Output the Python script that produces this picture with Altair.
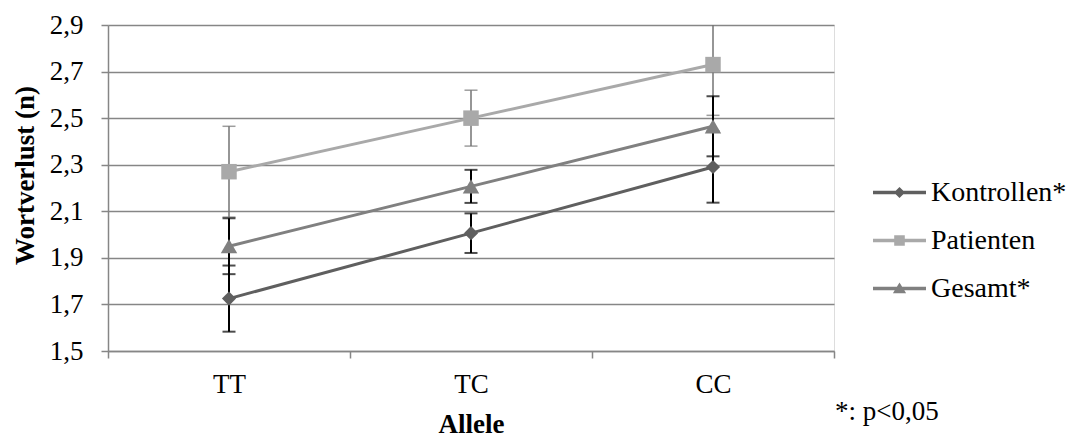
import altair as alt
import pandas as pd

# ---- data ----
alleles = ["TT", "TC", "CC"]
series = ["Kontrollen*", "Patienten", "Gesamt*"]
kontrollen = [1.725, 2.006, 2.29]
kontrollen_err = [0.142, 0.085, 0.153]
patienten = [2.27, 2.50, 2.73]
patienten_err = [0.195, 0.12, 0.218]
gesamt = [1.95, 2.207, 2.465]
gesamt_err = [0.12, 0.071, 0.129]
y_ticks = [1.5, 1.7, 1.9, 2.1, 2.3, 2.5, 2.7, 2.9]
footnote = ["*: p<0,05"]

rows = []
for s, vals, errs in zip(series, [kontrollen, patienten, gesamt],
                         [kontrollen_err, patienten_err, gesamt_err]):
    for a, v, e in zip(alleles, vals, errs):
        rows.append({"Allele": a, "Serie": s, "Wert": v, "lo": v - e, "hi": v + e})
df = pd.DataFrame(rows)

# ---- styles ----
FONT = "Liberation Serif"
GRID = "#868686"
line_colors = ["#5f5f5f", "#a9a9a9", "#808080"]
err_colors = ["#000000", "#737373", "#000000"]
err_widths = [2, 1.5, 2]
shapes = ["diamond", "square", "triangle-up"]
shape_sizes = [200, 240, 270]
legend_paths = [
    "M-1,-0.065L1,-0.065L1,0.065L-1,0.065Z M0,-0.21L0.21,0L0,0.21L-0.21,0Z",
    "M-1,-0.065L1,-0.065L1,0.065L-1,0.065Z M-0.2,-0.2L0.2,-0.2L0.2,0.2L-0.2,0.2Z",
    "M-1,-0.065L1,-0.065L1,0.065L-1,0.065Z M0,-0.23L0.25,0.18L-0.25,0.18Z",
]

x_enc = alt.X(
    "Allele:N",
    sort=alleles,
    scale=alt.Scale(type="band", domain=alleles, paddingInner=0, paddingOuter=0),
    axis=alt.Axis(
        title="Allele",
        titleFont=FONT, titleFontSize=27, titleFontWeight="bold", titleColor="black",
        titleBaseline="alphabetic", titleY=81,
        labelFont=FONT, labelFontSize=27, labelColor="black", labelAngle=0,
        labelPadding=13,
        tickBand="extent", tickColor=GRID, tickSize=7, tickWidth=1.5,
        domainColor=GRID, domainWidth=1.5, grid=False,
    ),
)


def y_enc(field):
    return alt.Y(
        field,
        scale=alt.Scale(domain=[1.5, 2.9], nice=False, zero=False),
        axis=alt.Axis(
            title="Wortverlust (n)",
            titleFont=FONT, titleFontSize=27, titleFontWeight="bold", titleColor="black",
            titleAngle=-90, titleX=-83, titleY=150, titleAlign="center",
            titleBaseline="middle",
            values=y_ticks,
            labelExpr="replace(format(datum.value, '.1f'), '.', ',')",
            labelFont=FONT, labelFontSize=27, labelColor="black", labelPadding=18,
            tickColor=GRID, tickSize=7, tickWidth=1.5,
            domainColor=GRID, domainWidth=1.5,
            grid=True, gridColor=GRID, gridWidth=1.5,
        ),
    )


base = alt.Chart(df)
layers = []

# error bars (drawn first)
for s, c, w in zip(series, err_colors, err_widths):
    sub = base.transform_filter(alt.datum.Serie == s)
    layers.append(sub.mark_rule(color=c, strokeWidth=w, clip=True).encode(
        x=x_enc, y=y_enc("lo:Q"), y2="hi:Q"))
    layers.append(sub.mark_tick(color=c, thickness=w, size=13, clip=True).encode(
        x=x_enc, y=y_enc("lo:Q")))
    layers.append(sub.mark_tick(color=c, thickness=w, size=13, clip=True).encode(
        x=x_enc, y=y_enc("hi:Q")))

# lines
for s, c in zip(series, line_colors):
    sub = base.transform_filter(alt.datum.Serie == s)
    layers.append(sub.mark_line(color=c, strokeWidth=3).encode(x=x_enc, y=y_enc("Wert:Q")))

# markers
for s, c, sh, sz in zip(series, line_colors, shapes, shape_sizes):
    sub = base.transform_filter(alt.datum.Serie == s)
    layers.append(sub.mark_point(shape=sh, size=sz, filled=True, color=c, opacity=1).encode(
        x=x_enc, y=y_enc("Wert:Q")))

# legend-only layer (no marks drawn, legend from explicit scale domains)
leg = alt.Legend(
    title=None, orient="none", legendX=765, legendY=141,
    labelFont=FONT, labelFontSize=28, labelColor="black", labelOffset=5,
    symbolSize=2809, symbolStrokeWidth=0, rowPadding=7, padding=0,
    symbolOpacity=1,
)
layers.append(
    base.transform_filter("false").mark_point(filled=True, opacity=1).encode(
        x=x_enc, y=y_enc("Wert:Q"),
        color=alt.Color("Serie:N", scale=alt.Scale(domain=series, range=line_colors), legend=leg),
        shape=alt.Shape("Serie:N", scale=alt.Scale(domain=series, range=legend_paths), legend=leg),
    )
)

# footnote
note = alt.Chart(pd.DataFrame({"t": footnote})).mark_text(
    align="left", baseline="alphabetic", font=FONT, fontSize=27, color="black"
).encode(x=alt.value(727), y=alt.value(395), text="t:N")
layers.append(note)

chart = alt.layer(*layers).properties(
    width=726, height=326,
    autosize=alt.AutoSizeParams(type="none"),
    padding={"left": 100, "top": 17, "right": 236, "bottom": 87},
).configure_view(strokeWidth=0).configure(
    background="white", font=FONT
).configure_legend(
    labelFont=FONT, labelFontSize=28, labelColor="black"
).configure_axis(
    labelFont=FONT, titleFont=FONT
).configure_text(font=FONT)

chart.save("out.html", embed_options={"renderer": "svg", "actions": False})
